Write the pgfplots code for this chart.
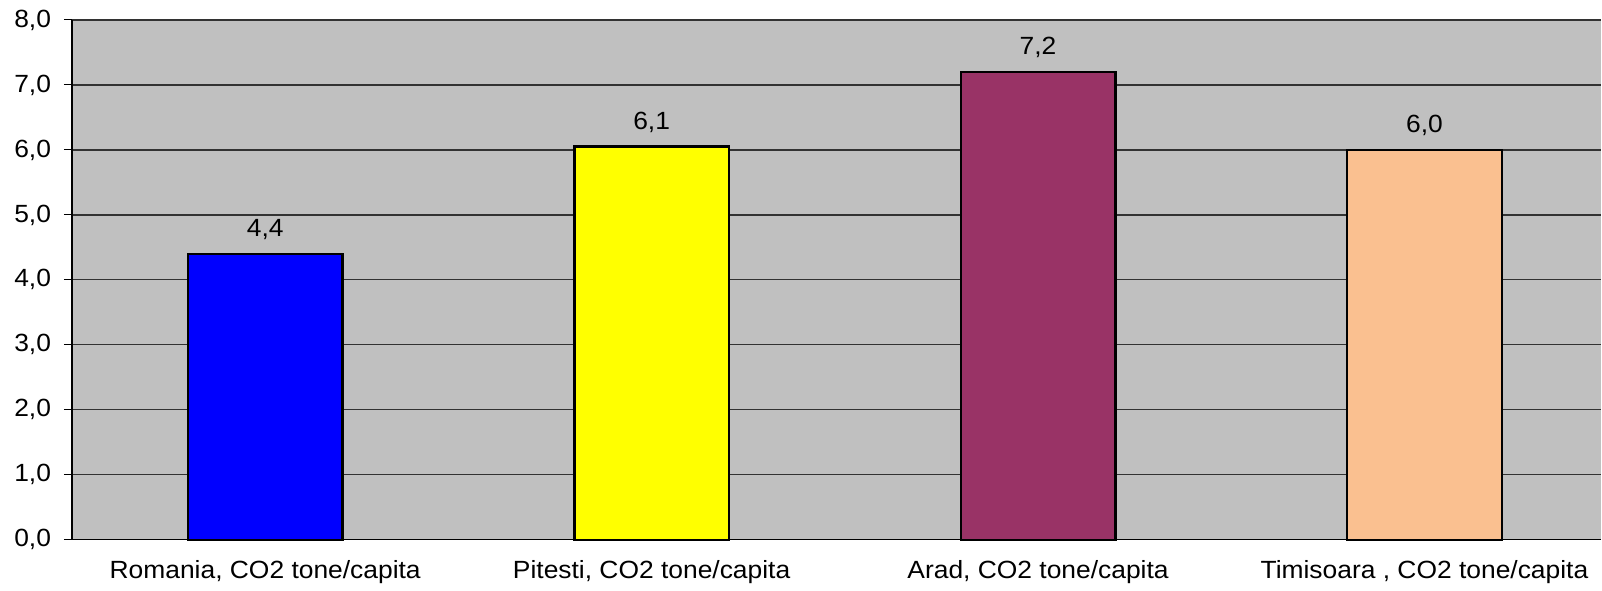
\documentclass[border=0pt]{standalone}
\usepackage{pgfplots}
\pgfplotsset{compat=1.18}
\usepackage{fontspec}
\setmainfont{Liberation Sans}[FakeStretch=1.06]
\definecolor{plotbg}{RGB}{192,192,192}
\definecolor{gridc}{RGB}{50,50,50}
\definecolor{barblue}{RGB}{0,0,255}
\definecolor{baryellow}{RGB}{255,255,0}
\definecolor{barplum}{RGB}{153,51,102}
\definecolor{barpeach}{RGB}{250,192,144}
\begin{document}
\begin{tikzpicture}
\begin{axis}[
  scale only axis,
  width=765bp, height=260bp,
  font=\fontsize{12.5}{15}\selectfont,
  axis background/.style={fill=plotbg},
  axis x line*=bottom, axis y line*=left,
  axis line style={draw=black, line width=0.6pt},
  xmin=-0.5, xmax=3.458,
  ymin=0, ymax=8,
  ytick={0,1,2,3,4,5,6,7,8},
  ymajorgrids, grid style={gridc, line width=0.6pt},
  tick align=outside,
  major tick length=4bp,
  tick style={black, line width=0.5pt},
  y tick label style={xshift=-3bp, /pgf/number format/.cd, fixed, fixed zerofill, precision=1, use comma, assume math mode=true},
  xtick={0,1,2,3},
  xticklabels={{Romania, CO2 tone/capita},{Pitesti, CO2 tone/capita},{Arad, CO2 tone/capita},{Timisoara , CO2 tone/capita}},
  x tick label style={yshift=-3bp},
  x tick style={draw=none},
  extra x ticks={0.5,1.5,2.5},
  extra x tick labels={},
  extra x tick style={grid=none, tick style={draw=black, line width=0.5pt}},
  ybar, bar width=0.4, bar shift=0pt,
  point meta=explicit symbolic,
  nodes near coords,
  nodes near coords style={black, yshift=3bp},
  clip=false,
]
\addplot[fill=barblue, draw=black, line width=1.2bp] coordinates {(0,4.4) [4,4]};
\addplot[fill=baryellow, draw=black, line width=1.2bp] coordinates {(1,6.05) [6,1]};
\addplot[fill=barplum, draw=black, line width=1.2bp] coordinates {(2,7.2) [7,2]};
\addplot[fill=barpeach, draw=black, line width=1.2bp] coordinates {(3,6.0) [6,0]};
\end{axis}
\path ([shift={(-36bp,-22.5bp)}]current axis.south west) rectangle ([shift={(0,10bp)}]current axis.north east);
\end{tikzpicture}
\end{document}
